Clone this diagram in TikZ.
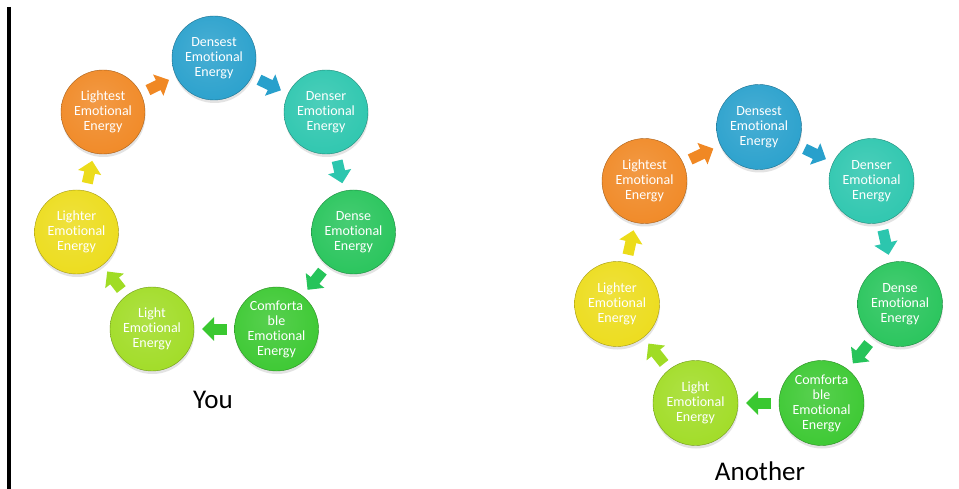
\documentclass[tikz,border=0pt]{standalone}
\usepackage{fontspec}
\setmainfont{Carlito}[Ligatures=NoCommon]
\usetikzlibrary{arrows.meta,shadows}
\definecolor{cDensest}{RGB}{40,160,204}
\definecolor{cDenser}{RGB}{44,198,174}
\definecolor{cDense}{RGB}{38,196,90}
\definecolor{cComf}{RGB}{58,200,48}
\definecolor{cLight}{RGB}{160,220,36}
\definecolor{cLighter}{RGB}{236,220,26}
\definecolor{cLightest}{RGB}{240,136,36}
\newcommand\mkglossy[1]{\pgfdeclareradialshading{gl#1}{\pgfpoint{-4bp}{6bp}}{color(0bp)=(#1!85!white);color(18bp)=(#1!93!white);color(34bp)=(#1);color(46bp)=(#1!90!black);color(56bp)=(#1!72!black)}}
\mkglossy{cDensest}\mkglossy{cDenser}\mkglossy{cDense}\mkglossy{cComf}
\mkglossy{cLight}\mkglossy{cLighter}\mkglossy{cLightest}
\tikzset{
  ball/.style n args={2}{circle, minimum size=#2, inner sep=0pt, outer sep=0pt,
    shading=gl#1, draw=#1!70!black, line width=0.4pt, text=white,
    font=\fontsize{14}{15}\selectfont, align=center,
    drop shadow={opacity=0.22, shadow xshift=0.5pt, shadow yshift=-3pt}},
  conn/.style={line width=11pt, draw=#1, -{Triangle[width=23pt,length=12pt]},
    shorten <=8pt, shorten >=8pt},
  caption/.style={font=\fontsize{27}{30}\selectfont, anchor=base, text=black}
}
\begin{document}
\begin{tikzpicture}[x=1pt,y=-1pt]
\useasboundingbox (0,0) rectangle (959,489);
\fill[white] (0,0) rectangle (959,489);
\coordinate (vtop) at (9,7);
\coordinate (vbot) at (9,489);
\draw[line width=3.3pt] (vtop) -- (vbot);
% left cycle
\node[ball={cDensest}{84pt}] (Ldensest) at (214,58) {Densest\\Emotional\\Energy};
\node[ball={cDenser}{84pt}] (Ldenser) at (326,112) {Denser\\Emotional\\Energy};
\node[ball={cDense}{84pt}] (Ldense) at (353.5,232) {Dense\\Emotional\\Energy};
\node[ball={cComf}{84pt}] (Lcomf) at (276.5,329) {Comforta\\ble\\Emotional\\Energy};
\node[ball={cLight}{84pt}] (Llight) at (152,329) {Light\\Emotional\\Energy};
\node[ball={cLighter}{84pt}] (Llighter) at (76.5,232) {Lighter\\Emotional\\Energy};
\node[ball={cLightest}{84pt}] (Llightest) at (103,112) {Lightest\\Emotional\\Energy};
\draw[conn=cLightest] (Llightest) -- (Ldensest);
\draw[conn=cDensest] (Ldensest) -- (Ldenser);
\draw[conn=cDenser] (Ldenser) -- (Ldense);
\draw[conn=cDense] (Ldense) -- (Lcomf);
\draw[conn=cComf] (Lcomf) -- (Llight);
\draw[conn=cLight] (Llight) -- (Llighter);
\draw[conn=cLighter] (Llighter) -- (Llightest);
\node[caption] (you) at (213,408) {You};
% right cycle
\node[ball={cDensest}{85pt}] (Rdensest) at (759,127) {Densest\\Emotional\\Energy};
\node[ball={cDenser}{85pt}] (Rdenser) at (871.5,181) {Denser\\Emotional\\Energy};
\node[ball={cDense}{85pt}] (Rdense) at (900,304) {Dense\\Emotional\\Energy};
\node[ball={cComf}{85pt}] (Rcomf) at (821.5,403) {Comforta\\ble\\Emotional\\Energy};
\node[ball={cLight}{85pt}] (Rlight) at (695.5,403) {Light\\Emotional\\Energy};
\node[ball={cLighter}{85pt}] (Rlighter) at (617,304) {Lighter\\Emotional\\Energy};
\node[ball={cLightest}{85pt}] (Rlightest) at (644.5,181) {Lightest\\Emotional\\Energy};
\draw[conn=cLightest] (Rlightest) -- (Rdensest);
\draw[conn=cDensest] (Rdensest) -- (Rdenser);
\draw[conn=cDenser] (Rdenser) -- (Rdense);
\draw[conn=cDense] (Rdense) -- (Rcomf);
\draw[conn=cComf] (Rcomf) -- (Rlight);
\draw[conn=cLight] (Rlight) -- (Rlighter);
\draw[conn=cLighter] (Rlighter) -- (Rlightest);
\node[caption] (another) at (760,480) {Another};
\end{tikzpicture}
\end{document}
